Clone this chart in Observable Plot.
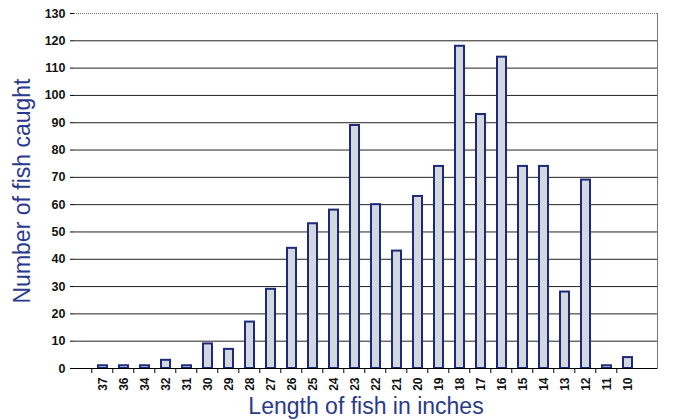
<!DOCTYPE html>
<html>
<head>
<meta charset="utf-8">
<script src="https://cdn.jsdelivr.net/npm/d3@7"></script>
<script src="https://cdn.jsdelivr.net/npm/@observablehq/plot@0.6"></script>
<style>
  html, body { margin: 0; padding: 0; background: #fff; }
  svg { display: block; }
</style>
</head>
<body>
<div id="chart"></div>
<script>
const lengths = ["37","36","34","32","31","30","29","28","27","26","25","24","23","22","21","20","19","18","17","16","15","14","13","12","11","10"];
const counts  = [1, 1, 1, 3, 1, 9, 7, 17, 29, 44, 53, 58, 89, 60, 43, 63, 74, 118, 93, 114, 74, 74, 28, 69, 1, 4];
const yTicks = d3.range(0, 131, 10);
const gridTicks = d3.range(10, 121, 10);
const xTitle = "Length of fish in inches";
const yTitle = "Number of fish caught";

const data = lengths.map((l, i) => ({length: l, count: counts[i]}));

const W = 674, H = 419, mL = 74, mR = 17, mT = 13, mB = 51;
const step = (W - mL - mR) / lengths.length;

const chart = Plot.plot({
  width: W, height: H,
  marginLeft: mL, marginRight: mR, marginTop: mT, marginBottom: mB,
  style: {fontFamily: "'Liberation Sans', Arial, sans-serif", background: "#fff"},
  x: {domain: lengths, padding: 0.56, align: 0.5, axis: null},
  y: {domain: [0, 130], axis: null},
  marks: [
    Plot.ruleY(gridTicks, {stroke: "#222", strokeWidth: 1}),
    Plot.ruleY([130], {stroke: "#777", strokeWidth: 1, strokeDasharray: "1,1"}),
    Plot.frame({anchor: "right", stroke: "#777", strokeDasharray: "1,1"}),
    Plot.barY(data, {x: "length", y: "count", fill: "#d3d7de", stroke: "#1d2a7c", strokeWidth: 2}),
    Plot.ruleX([0], {frameAnchor: "left", stroke: "#000"}),
    Plot.ruleY([0], {stroke: "#000", strokeWidth: 1}),
    Plot.axisY(yTicks, {tickSize: 4, tickPadding: 5, fontSize: 12.5, fontWeight: "bold", fill: "#111", stroke: "#000", label: null}),
    Plot.axisX({tickSize: 0, tickPadding: 9, tickRotate: -90, fontSize: 12, fontWeight: "bold", fill: "#111", label: null}),
    Plot.axisX({tickSize: 5, tickFormat: () => "", dx: -step / 2, stroke: "#000", label: null}),
    Plot.text([xTitle], {frameAnchor: "bottom", lineAnchor: "middle", dy: 38, fontSize: 23, fill: "#2a3a8c", text: d => d}),
    Plot.text([yTitle], {frameAnchor: "left", textAnchor: "middle", rotate: -90, dx: -52, fontSize: 23, fill: "#2a3a8c", text: d => d})
  ]
});
document.getElementById("chart").appendChild(chart);
</script>
</body>
</html>
